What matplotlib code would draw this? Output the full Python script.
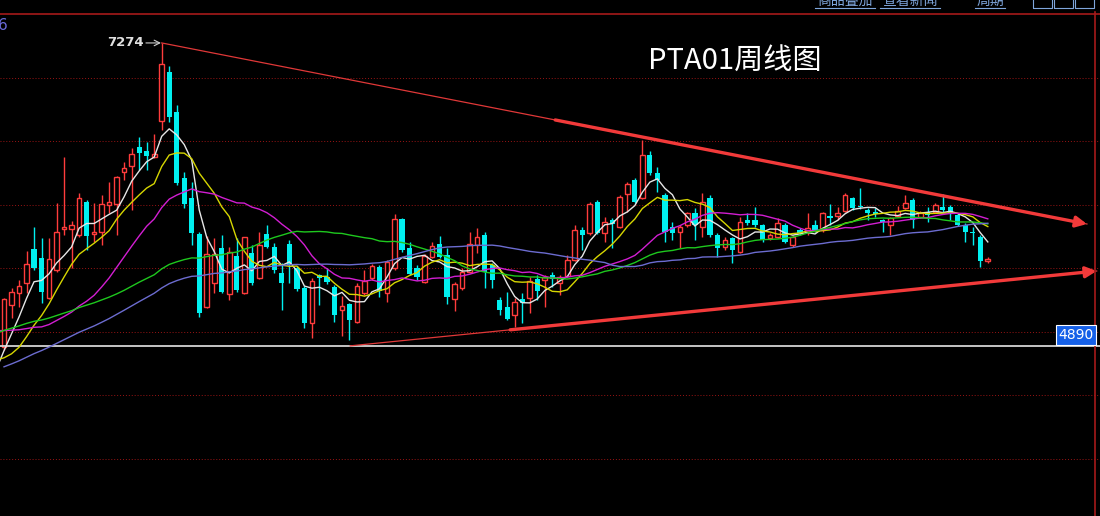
import numpy as np
import pandas as pd
import matplotlib
matplotlib.use('Agg')
import matplotlib.pyplot as plt

plt.rcParams['font.family'] = ['Noto Sans CJK SC', 'DejaVu Sans']

# weekly closes before the visible window (only used to seed the moving averages)
prior_close = [3950, 3900, 3850, 3800, 3850, 3950, 4050, 4100, 4150, 4200,
               4250, 4300, 4300, 4250, 4250, 4300, 4350, 4400, 4400, 4450,
               4600, 4650, 4750, 4850, 4900, 4950, 5000, 5050, 5100, 5050,
               5000, 5050, 5100, 5150, 5200, 5150, 5100, 5150, 5200, 5250,
               5250, 5300, 5350, 5300, 5250, 5200, 5150, 5200, 5150, 5100,
               5000, 4850, 4700, 4600, 4550, 4650, 4700, 4800, 4850]

# weekly candles
opens = [4880, 5212, 5304, 5383, 5652, 5584, 5269, 5487, 5807, 5807,
         5763, 6025, 5768, 5789, 5999, 6007, 6256, 6308, 6453, 6426,
         6374, 6659, 7045, 6731, 6211, 6057, 5768, 5198, 5383, 5658,
         5296, 5597, 5304, 5618, 5421, 5771, 5671, 5461, 5690, 5500,
         5343, 5068, 5448, 5435, 5356, 5173, 5220, 5080, 5309, 5421,
         5508, 5304, 5500, 5888, 5658, 5500, 5395, 5587, 5692, 5605,
         5257, 5343, 5474, 5684, 5763, 5527, 5251, 5198, 5133, 5255,
         5264, 5414, 5409, 5448, 5383, 5440, 5566, 5802, 5776, 6025,
         5776, 5881, 5828, 6085, 6195, 6051, 6392, 6253, 6077, 5823,
         5788, 5841, 5938, 5828, 6051, 5763, 5671, 5737, 5631, 5881,
         5880, 5841, 5737, 5750, 5841, 5684, 5802, 5788, 5841, 5802,
         5912, 5912, 5954, 6051, 5991, 5959, 5946, 5881, 5841, 5912,
         5972, 6038, 5902, 5946, 5946, 5985, 5980, 5920, 5841, 5789,
         5750, 5560]
highs = [5270, 5345, 5408, 5637, 5828, 5741, 5739, 6014, 6379, 5870,
         6096, 6038, 6014, 6077, 6182, 6230, 6339, 6445, 6536, 6497,
         6555, 7274, 7093, 6786, 6258, 6182, 5790, 5755, 5737, 5763,
         5666, 5737, 5750, 5684, 5788, 5841, 5697, 5540, 5723, 5520,
         5360, 5422, 5455, 5500, 5370, 5280, 5230, 5382, 5487, 5535,
         5530, 5566, 5928, 5900, 5710, 5527, 5610, 5710, 5755, 5658,
         5390, 5500, 5789, 5815, 5783, 5540, 5277, 5317, 5264, 5304,
         5435, 5448, 5448, 5474, 5448, 5605, 5841, 5828, 6025, 6038,
         5902, 5894, 6077, 6182, 6208, 6510, 6426, 6300, 6090, 5867,
         5840, 5946, 5972, 6096, 6077, 5776, 5750, 5750, 5906, 5938,
         5985, 5850, 5776, 5894, 5854, 5763, 5815, 5933, 5881, 5946,
         6007, 5980, 6090, 6064, 6130, 5972, 5972, 5890, 5906, 5991,
         6077, 6051, 5950, 5980, 6012, 6085, 5999, 5933, 5854, 5828,
         5760, 5586]
lows = [4860, 5110, 5198, 5306, 5487, 5225, 5260, 5474, 5763, 5503,
        5750, 5645, 5710, 5684, 5936, 5763, 6195, 5959, 6274, 6274,
        6366, 6589, 6652, 6156, 5975, 5684, 5119, 5190, 5304, 5304,
        5251, 5317, 5296, 5370, 5418, 5658, 5461, 5173, 5383, 5325,
        5028, 4950, 5212, 5380, 5080, 4964, 4936, 5070, 5290, 5409,
        5277, 5238, 5490, 5630, 5447, 5409, 5383, 5580, 5580, 5220,
        5167, 5330, 5460, 5618, 5343, 5345, 5133, 5090, 5040, 5070,
        5145, 5251, 5198, 5356, 5290, 5430, 5560, 5645, 5763, 5770,
        5710, 5658, 5815, 5946, 6012, 6043, 6235, 6103, 5710, 5723,
        5658, 5828, 5723, 5750, 5750, 5592, 5645, 5540, 5618, 5841,
        5828, 5710, 5723, 5737, 5700, 5671, 5763, 5763, 5790, 5790,
        5841, 5881, 5946, 5959, 5965, 5881, 5907, 5789, 5763, 5905,
        5965, 5815, 5895, 5868, 5938, 5946, 5881, 5833, 5710, 5684,
        5507, 5545]
closes = [5260, 5314, 5362, 5534, 5503, 5312, 5574, 5788, 5828, 5841,
          6051, 5757, 5789, 6007, 6020, 6217, 6287, 6398, 6410, 6385,
          6398, 7106, 6691, 6172, 6003, 5781, 5145, 5613, 5613, 5317,
          5631, 5330, 5744, 5383, 5684, 5671, 5487, 5387, 5527, 5335,
          5068, 5403, 5424, 5390, 5133, 5204, 5090, 5361, 5403, 5519,
          5322, 5553, 5888, 5645, 5455, 5430, 5597, 5678, 5592, 5272,
          5377, 5474, 5692, 5744, 5474, 5409, 5173, 5099, 5238, 5230,
          5401, 5325, 5430, 5414, 5435, 5566, 5802, 5763, 6007, 5776,
          5867, 5850, 6064, 6164, 6025, 6392, 6248, 6195, 5788, 5776,
          5828, 5933, 5841, 6025, 5763, 5658, 5723, 5645, 5867, 5854,
          5841, 5723, 5763, 5860, 5710, 5750, 5776, 5815, 5802, 5933,
          5899, 5938, 6077, 5972, 5980, 5933, 5928, 5868, 5894, 5954,
          6017, 5881, 5933, 5920, 5999, 5959, 5938, 5841, 5789, 5776,
          5560, 5574]

ma_periods = [5, 10, 20, 40, 60]
ma_colors = ['#e6e6e6', '#d6d600', '#d21ed2', '#1ec81e', '#6c6cd0']

peak_idx, peak_price = 21, 7274
support_price = 4890
upper_trend = [(21, 7274), (144.2, 5849)]
lower_trend = [(46.1, 4890), (145.5, 5479)]
grid_levels = [7000, 6500, 6000, 5500, 5000, 4500, 4000]
top_buttons = ['商品叠加', '查看新闻', '周期']

W, H = 1100, 516
fig = plt.figure(figsize=(W / 100, H / 100), dpi=100, facecolor='black')
ax = fig.add_axes([0, 0, 1, 1])
ax.set_facecolor('black')
ax.set_xlim(-0.533, 145.94)
ax.set_ylim(3551, 7612)
ax.axis('off')

# grid and frame
for g in grid_levels:
    ax.axhline(g, color='#9a1414', lw=0.7, ls=(0, (1, 2)), zorder=1)
ax.axhline(7500, color='#a51a1a', lw=1.2, zorder=1)
fig.add_artist(plt.Line2D([1095 / W, 1095 / W], [0, 1 - 12 / H], color='#a51a1a', lw=1.2))

# candles
x = np.arange(len(closes))
o, h, l, c = map(np.array, (opens, highs, lows, closes))
up = c >= o
red, cyan = '#ff3c3c', '#00f0f0'
ax.vlines(x[up], l[up], h[up], color=red, lw=1, zorder=2)
ax.vlines(x[~up], l[~up], h[~up], color=cyan, lw=1, zorder=2)
ax.bar(x[up], c[up] - o[up], bottom=o[up], width=0.62, facecolor='black',
       edgecolor=red, lw=1, zorder=3)
ax.bar(x[~up], o[~up] - c[~up], bottom=c[~up], width=0.7, color=cyan, lw=0, zorder=3)

# moving averages
all_close = pd.Series(prior_close + closes, dtype=float)
xi = np.arange(-len(prior_close), len(closes))
for p, col in zip(ma_periods, ma_colors):
    ax.plot(xi, all_close.rolling(p).mean(), color=col, lw=1.0, zorder=4)

# support line at 4890
ax.axhline(support_price, color='#d4d4d4', lw=1.3, zorder=3)
fig.text(1076 / W, 1 - 335 / H, str(support_price), ha='center', va='center',
         color='white', fontsize=10, family='DejaVu Sans',
         bbox=dict(boxstyle='square,pad=0.2', fc='#1560e8', ec='white', lw=0.8))

# trend lines: thin start, thick arrow end
for (x0, y0), (x1, y1), xs in [(upper_trend[0], upper_trend[1], 73.4),
                               (lower_trend[0], lower_trend[1], 67.4)]:
    ax.plot([x0, x1], [y0, y1], color='#e03838', lw=0.9, zorder=5)
    ax.annotate('', xy=(x1, y1), xytext=(xs, np.interp(xs, [x0, x1], [y0, y1])),
                arrowprops=dict(arrowstyle='-|>', color='#f23a3a', lw=2.4,
                                mutation_scale=16, shrinkA=0, shrinkB=0), zorder=5)

# peak label
ax.text(peak_idx - 2.45, peak_price, str(peak_price), ha='right', va='center',
        color='#e0e0e0', fontsize=9.5, fontweight='bold', family='DejaVu Sans', zorder=6)
ax.annotate('', xy=(peak_idx - 0.1, peak_price), xytext=(peak_idx - 2.1, peak_price),
            arrowprops=dict(arrowstyle='->', color='#cccccc', lw=0.8, shrinkA=0, shrinkB=0))

fig.text(735 / W, 1 - 62 / H, 'PTA01周线图', color='white', fontsize=21,
         ha='center', va='center')
fig.text(-2 / W, 1 - 25 / H, '6', color='#6a6ad8', fontsize=11, ha='left', va='center',
         family='DejaVu Sans')

# toolbar along the top edge (cut off by the frame, as in the source screenshot)
for label, px in zip(top_buttons, [845, 910, 990]):
    fig.text(px / W, 1 - 1 / H, label, color='#7fa6dc', fontsize=10, ha='center', va='center')
    half = 30 if len(label) > 2 else 15
    fig.add_artist(plt.Line2D([(px - half) / W, (px + half) / W],
                              [1 - 8 / H, 1 - 8 / H], color='#7fa6dc', lw=0.8))
for bx in [1033, 1054, 1075]:
    fig.add_artist(plt.Rectangle((bx / W, 1 - 8 / H), 19 / W, 12 / H, fill=False,
                                 ec='#7fa6dc', lw=0.8))

fig.savefig('out.png', dpi=100, facecolor='black')
